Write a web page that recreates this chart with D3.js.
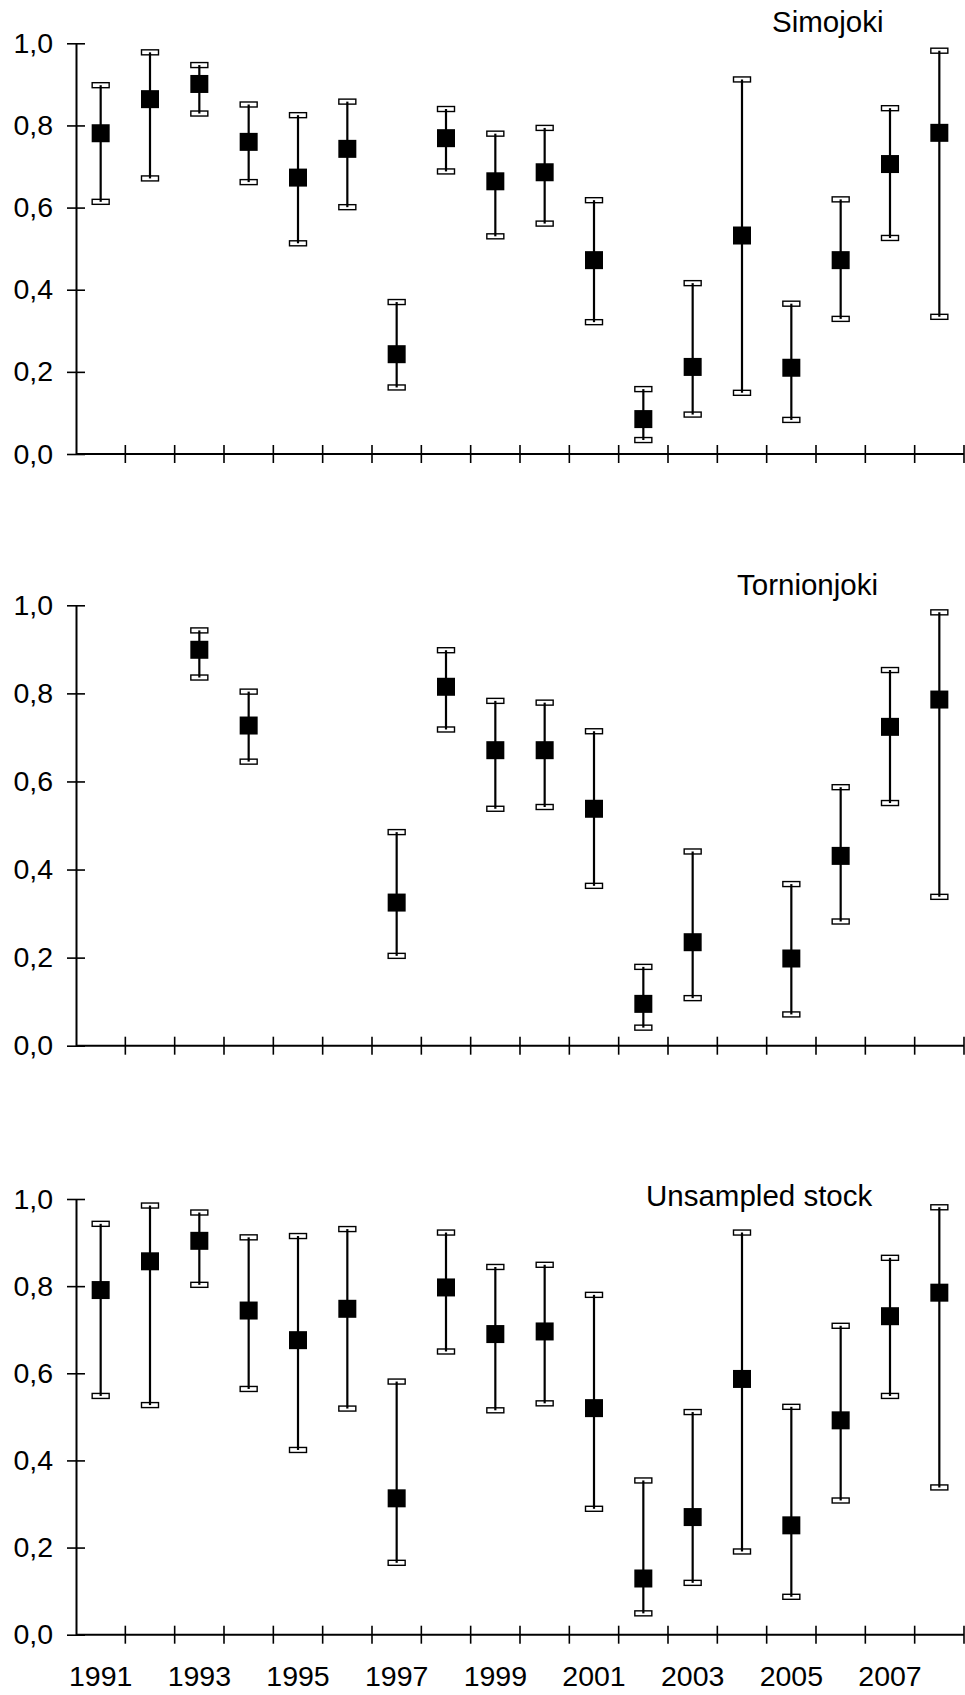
<!DOCTYPE html>
<html lang="en">
<head>
<meta charset="UTF-8">
<title>Proportion by year, three stocks</title>
<script src="https://cdnjs.cloudflare.com/ajax/libs/d3/7.8.5/d3.min.js"></script>
<style>
    html, body {
        margin: 0;
        padding: 0;
        background: #fff;
    }
    svg text {
        font-family: "Liberation Sans", Arial, sans-serif;
        fill: #000;
    }
    .tick-label { font-size: 28.5px; }
    .panel-title { font-size: 29.5px; }
</style>
</head>
<body>
<div id="chart"></div>
<script>
    // categories
    const years = [1991, 1992, 1993, 1994, 1995, 1996, 1997, 1998, 1999,
                   2000, 2001, 2002, 2003, 2004, 2005, 2006, 2007, 2008];
    const yTicks = [0, 0.2, 0.4, 0.6, 0.8, 1.0];
    const titles = ["Simojoki", "Tornionjoki", "Unsampled stock"];

    // Simojoki
    const simoMid  = [0.781, 0.864, 0.901, 0.760, 0.673, 0.743, 0.243, 0.769, 0.664,
                      0.686, 0.472, 0.085, 0.212, 0.532, 0.210, 0.472, 0.706, 0.782];
    const simoLow  = [0.614, 0.671, 0.829, 0.662, 0.513, 0.601, 0.162, 0.688, 0.530,
                      0.561, 0.321, 0.034, 0.096, 0.149, 0.083, 0.329, 0.526, 0.334];
    const simoHigh = [0.898, 0.978, 0.947, 0.851, 0.825, 0.858, 0.370, 0.840, 0.780,
                      0.794, 0.618, 0.158, 0.416, 0.912, 0.366, 0.620, 0.842, 0.982];

    // Tornionjoki (no estimate for some years)
    const tornMid  = [null, null, 0.899, 0.727, null, null, 0.325, 0.815, 0.671,
                      0.671, 0.538, 0.095, 0.235, null, 0.198, 0.431, 0.724, 0.786];
    const tornLow  = [null, null, 0.836, 0.645, null, null, 0.204, 0.718, 0.538,
                      0.542, 0.363, 0.041, 0.108, null, 0.071, 0.282, 0.551, 0.338];
    const tornHigh = [null, null, 0.943, 0.804, null, null, 0.485, 0.898, 0.783,
                      0.779, 0.714, 0.179, 0.441, null, 0.367, 0.587, 0.853, 0.984];

    // Unsampled stock
    const unsMid  = [0.791, 0.857, 0.904, 0.744, 0.676, 0.748, 0.313, 0.797, 0.690,
                     0.696, 0.520, 0.129, 0.270, 0.587, 0.251, 0.492, 0.731, 0.785];
    const unsLow  = [0.548, 0.527, 0.803, 0.564, 0.424, 0.519, 0.165, 0.650, 0.515,
                     0.531, 0.289, 0.049, 0.119, 0.191, 0.087, 0.308, 0.548, 0.338];
    const unsHigh = [0.943, 0.985, 0.969, 0.912, 0.915, 0.931, 0.581, 0.923, 0.844,
                     0.849, 0.780, 0.354, 0.511, 0.923, 0.523, 0.709, 0.865, 0.981];

    const series = [
        { mid: simoMid, low: simoLow, high: simoHigh },
        { mid: tornMid, low: tornLow, high: tornHigh },
        { mid: unsMid, low: unsLow, high: unsHigh }
    ];

    // layout of the three stacked panels
    const width = 965, height = 1695;
    const panelBox = [
        { top: 43.3, bottom: 454, titleX: 772, titleY: 32 },
        { top: 605.3, bottom: 1045.7, titleX: 737, titleY: 595 },
        { top: 1199, bottom: 1634.7, titleX: 646, titleY: 1206 }
    ];
    const axisLeftX = 76, axisRightX = 964;

    const svg = d3.select("#chart")
        .append("svg")
        .attr("width", width)
        .attr("height", height);

    const x = d3.scaleBand()
        .domain(years)
        .range([axisLeftX, axisRightX])
        .padding(0);

    series.forEach((s, p) => {
        const box = panelBox[p];
        const y = d3.scaleLinear().domain([0, 1]).range([box.bottom, box.top]);
        const g = svg.append("g");

        // y axis, ticks cross the axis line
        const yAxis = g.append("g")
            .attr("transform", `translate(${axisLeftX},0)`)
            .call(d3.axisLeft(y)
                .tickValues(yTicks)
                .tickSize(9)
                .tickSizeOuter(0)
                .tickPadding(14)
                .tickFormat(d => d3.format(".1f")(d).replace(".", ",")));
        yAxis.select(".domain").attr("stroke", "#000").attr("stroke-width", 2);
        yAxis.selectAll(".tick line").attr("x1", 9).attr("stroke", "#000").attr("stroke-width", 1.6);
        yAxis.selectAll(".tick text").attr("class", "tick-label").attr("font-size", null).attr("font-family", null);

        // x axis line with ticks at band edges
        g.append("line")
            .attr("x1", axisLeftX).attr("x2", axisRightX)
            .attr("y1", y(0)).attr("y2", y(0))
            .attr("stroke", "#000").attr("stroke-width", 2);
        const edges = years.map(d => x(d)).concat([axisRightX]);
        g.selectAll(".xtick")
            .data(edges.slice(1))
            .join("line")
            .attr("class", "xtick")
            .attr("x1", d => d).attr("x2", d => d)
            .attr("y1", y(0) - 9).attr("y2", y(0) + 9)
            .attr("stroke", "#000").attr("stroke-width", 1.6);

        // year labels only below the last panel
        if (p === series.length - 1) {
            const xAxis = g.append("g")
                .attr("transform", `translate(0,${y(0)})`)
                .call(d3.axisBottom(x)
                    .tickValues(years.filter(d => d % 2 === 1))
                    .tickSize(0)
                    .tickPadding(31));
            xAxis.select(".domain").remove();
            xAxis.selectAll(".tick text").attr("class", "tick-label").attr("font-size", null).attr("font-family", null);
        }

        g.append("text")
            .attr("class", "panel-title")
            .attr("x", box.titleX)
            .attr("y", box.titleY)
            .text(titles[p]);

        const pts = years.map((yr, i) => ({ yr, mid: s.mid[i], low: s.low[i], high: s.high[i] }))
            .filter(d => d.mid !== null);
        const cx = d => x(d.yr) + x.bandwidth() / 2;

        // caps
        const capW = 17, capH = 5;
        g.selectAll(".cap")
            .data(pts.flatMap(d => [{ d, v: d.low }, { d, v: d.high }]))
            .join("rect")
            .attr("class", "cap")
            .attr("x", e => cx(e.d) - capW / 2)
            .attr("y", e => y(e.v) - capH / 2)
            .attr("width", capW)
            .attr("height", capH)
            .attr("fill", "#fff")
            .attr("stroke", "#000")
            .attr("stroke-width", 1.4);

        // whiskers
        g.selectAll(".whisker")
            .data(pts)
            .join("line")
            .attr("class", "whisker")
            .attr("x1", cx).attr("x2", cx)
            .attr("y1", d => y(d.low)).attr("y2", d => y(d.high))
            .attr("stroke", "#000")
            .attr("stroke-width", 2.2);

        // point estimates
        const sq = 18;
        g.selectAll(".mark")
            .data(pts)
            .join("rect")
            .attr("class", "mark")
            .attr("x", d => cx(d) - sq / 2)
            .attr("y", d => y(d.mid) - sq / 2)
            .attr("width", sq)
            .attr("height", sq)
            .attr("fill", "#000");
    });
</script>
</body>
</html>
